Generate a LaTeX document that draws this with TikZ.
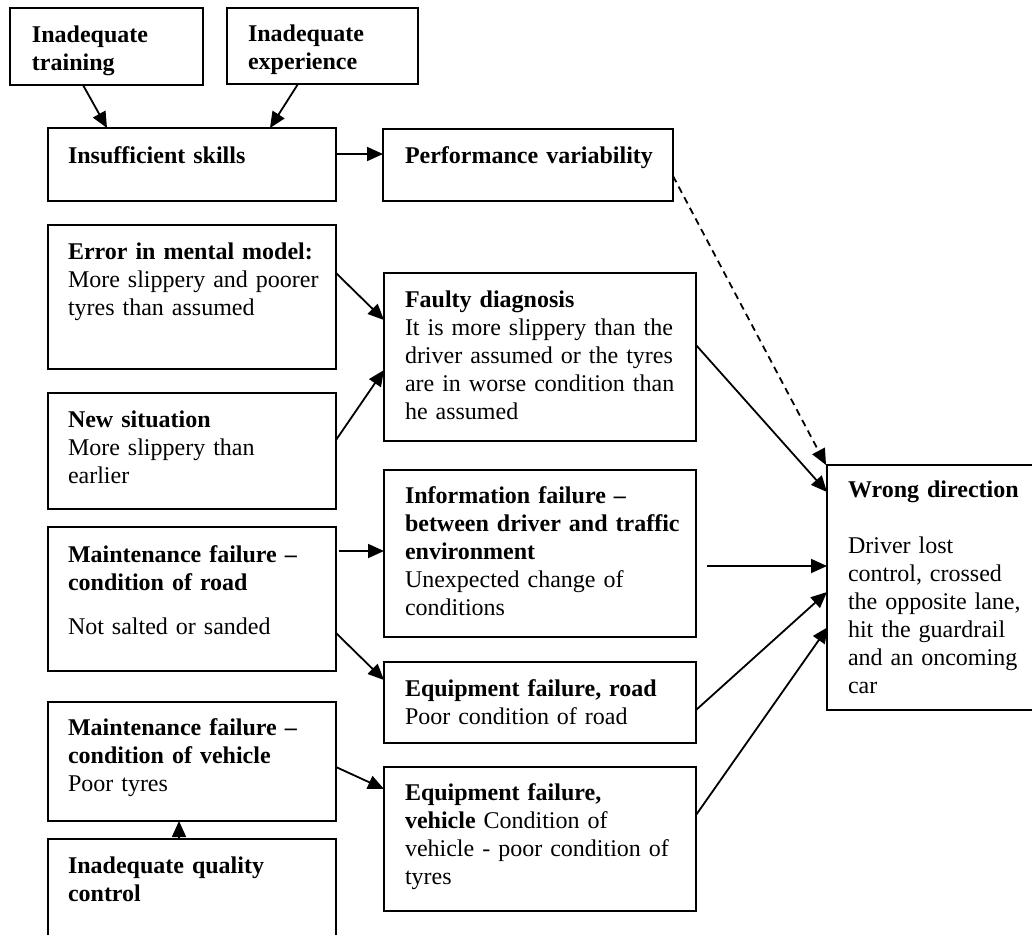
\documentclass[tikz,border=0pt]{standalone}
\usepackage{fontspec}
\setmainfont{Liberation Serif}
\usetikzlibrary{arrows.meta,calc}
\begin{document}
\begin{tikzpicture}[x=0.5pt,y=-0.5pt,
  box/.style={draw,line width=1.1pt,rectangle,inner sep=0pt,outer sep=0pt},
  txt/.style={anchor=base west,inner sep=0pt,outer sep=0pt,align=left,text width=#1,
    font=\fontsize{12pt}{14pt}\selectfont},
  link/.style={line width=0.9pt,-{Triangle[length=8pt,width=7pt]}},
  hint/.style={link,dash pattern=on 3.5pt off 2.5pt},
  ]
\useasboundingbox (0,0) rectangle (1032,934);
\clip (0,0) rectangle (1032,934);

% ---- boxes ----
\node[box,minimum width=96.5pt,minimum height=38.5pt] (train)  at (106.5,46.5) {};
\node[box,minimum width=95.5pt,minimum height=38pt]   (exper)  at (322.5,46)   {};
\node[box,minimum width=144pt,minimum height=36.5pt]  (skills) at (192,164.5)  {};
\node[box,minimum width=145pt,minimum height=36pt]    (perf)   at (528,165)    {};
\node[box,minimum width=144pt,minimum height=72pt]    (error)  at (192,297)    {};
\node[box,minimum width=144pt,minimum height=58pt]    (newsit) at (192,451)    {};
\node[box,minimum width=144pt,minimum height=72pt]    (mroad)  at (192,599)    {};
\node[box,minimum width=144pt,minimum height=59.5pt]  (mveh)   at (192,761.5)  {};
\node[box,minimum width=144pt,minimum height=75.5pt]  (qc)     at (192,914.5)  {};
\node[box,minimum width=156pt,minimum height=84pt]    (faulty) at (540,357)    {};
\node[box,minimum width=156pt,minimum height=83.5pt]  (info)   at (540,553.5)  {};
\node[box,minimum width=156pt,minimum height=40.5pt]  (eroad)  at (540,702.5)  {};
\node[box,minimum width=156pt,minimum height=72pt]    (eveh)   at (540,839)    {};
\node[box,minimum width=103.5pt,minimum height=122.5pt] (wrong) at (930.5,587.5) {};

% ---- texts ----
\node[txt=90pt] (train-t) at ($(train.north west)+(22,34)$)
  {\textbf{Inadequate}\\\textbf{training}};
\node[txt=90pt] (exper-t) at ($(exper.north west)+(21,33)$)
  {\textbf{Inadequate}\\\textbf{experience}};
\node[txt=135pt] (skills-t) at ($(skills.north west)+(20,35)$)
  {\textbf{Insufficient skills}};
\node[txt=135pt] (perf-t) at ($(perf.north west)+(22,34)$)
  {\textbf{Performance variability}};
\node[txt=135pt] (error-t) at ($(error.north west)+(20,34)$)
  {\textbf{Error in mental model:}\\More slippery and poorer\\tyres than assumed};
\node[txt=135pt] (newsit-t) at ($(newsit.north west)+(20,34)$)
  {\textbf{New situation}\\More slippery than\\earlier};
\node[txt=135pt] (mroad-t) at ($(mroad.north west)+(20,35)$)
  {\textbf{Maintenance failure –}\\\textbf{condition of road}\\[8pt]Not salted or sanded};
\node[txt=135pt] (mveh-t) at ($(mveh.north west)+(20,33)$)
  {\textbf{Maintenance failure –}\\\textbf{condition of vehicle}\\Poor tyres};
\node[txt=135pt] (qc-t) at ($(qc.north west)+(20,34)$)
  {\textbf{Inadequate quality}\\\textbf{control}};
\node[txt=145pt] (faulty-t) at ($(faulty.north west)+(21,34)$)
  {\textbf{Faulty diagnosis}\\It is more slippery than the\\driver assumed or the tyres\\are in worse condition than\\he assumed};
\node[txt=145pt] (info-t) at ($(info.north west)+(21,33)$)
  {\textbf{Information failure –}\\\textbf{between driver and traffic}\\\textbf{environment}\\Unexpected change of\\conditions};
\node[txt=145pt] (eroad-t) at ($(eroad.north west)+(21,34)$)
  {\textbf{Equipment failure, road}\\Poor condition of road};
\node[txt=145pt] (eveh-t) at ($(eveh.north west)+(21,33)$)
  {\textbf{Equipment failure,}\\\textbf{vehicle} Condition of\\vehicle - poor condition of\\tyres};
\node[txt=95pt] (wrong-t) at ($(wrong.north west)+(21,32)$)
  {\textbf{Wrong direction}\\[14pt]Driver lost\\control, crossed\\the opposite lane,\\hit the guardrail\\and an oncoming\\car};

% ---- connectors ----
\draw[link] ($(train.north west)+(73,77)$) -- ($(skills.north west)+(59,0)$);
\draw[link] ($(exper.north west)+(71,76)$) -- ($(skills.north west)+(222,0)$);
\draw[link] ($(skills.north east)+(1,26)$) -- ($(perf.north west)+(0,25)$);
\draw[hint] ($(perf.north east)+(0,47)$) -- ($(wrong.north west)+(-1,0)$);
\draw[link] ($(error.north east)+(0,48)$) -- ($(faulty.north west)+(0,47)$);
\draw[link] ($(newsit.north east)+(0,47)$) -- ($(faulty.north west)+(0,97)$);
\draw[link] ($(faulty.north east)+(0,72)$) -- ($(wrong.north west)+(0,27)$);
\draw[link] ($(mroad.north east)+(3,24)$) -- ($(info.north west)+(0,81)$);
\coordinate (infoout) at ($(info.north east)+(11,96)$);
\draw[link] (infoout) -- ($(wrong.north west)+(0,101)$);
\draw[link] ($(mroad.north east)+(0,106)$) -- ($(eroad.north west)+(0,18)$);
\draw[link] ($(eroad.north east)+(0,48)$) -- ($(wrong.north west)+(0,127)$);
\draw[link] ($(mveh.north east)+(0,65)$) -- ($(eveh.north west)+(0,22)$);
\draw[link] ($(eveh.north east)+(0,48)$) -- ($(wrong.north west)+(1,162)$);
\draw[link] ($(qc.north west)+(131,0)$) -- ($(mveh.south west)+(131,0)$);
\end{tikzpicture}
\end{document}
